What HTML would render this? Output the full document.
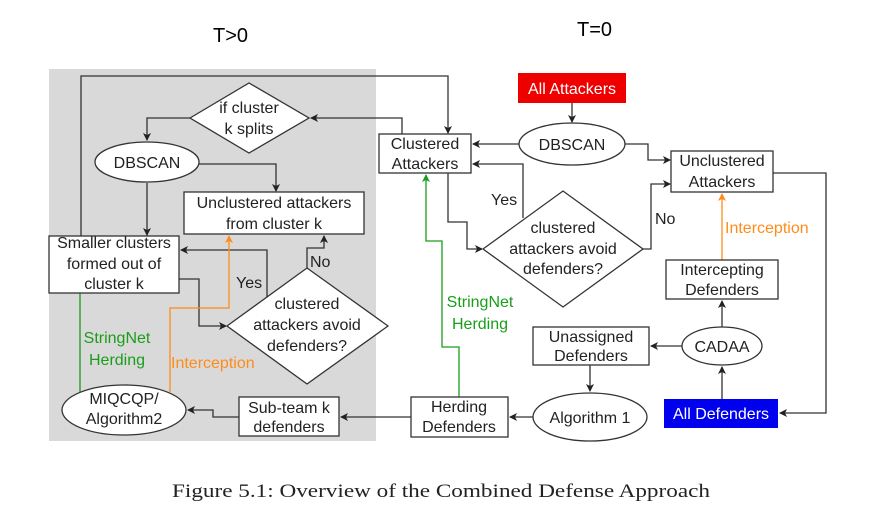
<!DOCTYPE html>
<html><head><style>
html,body{margin:0;padding:0;background:#fff;}
svg{display:block;}
text{font-family:"Liberation Sans",sans-serif;font-size:16px;}
</style></head><body>
<svg width="870" height="511" viewBox="0 0 870 511" xmlns="http://www.w3.org/2000/svg">
<defs>
<marker id="a" markerWidth="8" markerHeight="8" refX="7" refY="4" orient="auto" markerUnits="userSpaceOnUse"><path d="M0,0 L8,4 L0,8 L2,4 z" fill="#222"/></marker>
<marker id="g" markerWidth="8" markerHeight="8" refX="7" refY="4" orient="auto" markerUnits="userSpaceOnUse"><path d="M0,0 L8,4 L0,8 L2,4 z" fill="#1a9e1a"/></marker>
<marker id="o" markerWidth="8" markerHeight="8" refX="7" refY="4" orient="auto" markerUnits="userSpaceOnUse"><path d="M0,0 L8,4 L0,8 L2,4 z" fill="#ff8c1a"/></marker>
</defs>
<rect x="49" y="69" width="327" height="372" fill="#d9d9d9"/>
<text x="213" y="42" style="font-size:20px">T&gt;0</text>
<text x="577" y="36" style="font-size:20px">T=0</text>

<g fill="none" stroke="#333" stroke-width="1.3">
<path d="M81,236 V76 H448 V133" marker-end="url(#a)"/>
<path d="M402,134 V118 H311" marker-end="url(#a)"/>
<path d="M190,118 H147 V140" marker-end="url(#a)"/>
<path d="M198,164 H276 V191" marker-end="url(#a)"/>
<path d="M147,183 V235" marker-end="url(#a)"/>
<path d="M267,297 V250 H181" marker-end="url(#a)"/>
<path d="M179,279 H199 V326 H226" marker-end="url(#a)"/>
<path d="M307,268 V248 H324 V236" marker-end="url(#a)"/>
<path d="M239,417 H213 V410 H188" marker-end="url(#a)"/>
<path d="M411,417 H341" marker-end="url(#a)"/>
<path d="M572,103 V122" marker-end="url(#a)"/>
<path d="M519,144 H473" marker-end="url(#a)"/>
<path d="M523,218 V164 H473" marker-end="url(#a)"/>
<path d="M448,173 V222 H467 V249 H482" marker-end="url(#a)"/>
<path d="M643,249 H651 V184 H670" marker-end="url(#a)"/>
<path d="M625,144 H648 V160 H670" marker-end="url(#a)"/>
<path d="M773,173 H826 V413 H780" marker-end="url(#a)"/>
<path d="M722,399 V367" marker-end="url(#a)"/>
<path d="M722,327 V301" marker-end="url(#a)"/>
<path d="M682,346 H651" marker-end="url(#a)"/>
<path d="M590,365 V391" marker-end="url(#a)"/>
<path d="M533,417 H510" marker-end="url(#a)"/>
</g>
<g fill="none" stroke="#1a9e1a" stroke-width="1.3">
<path d="M80,392 V238" marker-end="url(#g)"/>
<path d="M459,397 V347 H442 V241 H426 V175" marker-end="url(#g)"/>
</g>
<g fill="none" stroke="#ff8c1a" stroke-width="1.3">
<path d="M170,392 V308 H229 V236" marker-end="url(#o)"/>
<path d="M722,260 V194" marker-end="url(#o)"/>
</g>

<g fill="#fff" stroke="#333" stroke-width="1.3">
<polygon points="190,118 249,83 309,118 249,153"/>
<ellipse cx="147" cy="162" rx="52" ry="20"/>
<rect x="184" y="192" width="180" height="42"/>
<rect x="49" y="236" width="130" height="57"/>
<polygon points="227,326 307,268 388,326 307,384"/>
<ellipse cx="124" cy="410" rx="62" ry="25"/>
<rect x="239" y="397" width="100" height="39"/>
<ellipse cx="572" cy="144" rx="53" ry="21"/>
<rect x="379" y="134" width="92" height="39"/>
<polygon points="483,249 563,191 643,249 563,307"/>
<rect x="671" y="151" width="102" height="41"/>
<ellipse cx="722" cy="346" rx="40" ry="19"/>
<rect x="666" y="260" width="112" height="39"/>
<rect x="533" y="327" width="116" height="38"/>
<ellipse cx="590" cy="417" rx="57" ry="24"/>
<rect x="411" y="397" width="97" height="40"/>
</g>
<rect x="518" y="73" width="108" height="30" fill="#ee0000"/>
<rect x="664" y="399" width="114" height="29" fill="#0000ee"/>

<g fill="#222" text-anchor="middle">
<text x="249" y="113">if cluster</text>
<text x="249" y="134">k splits</text>
<text x="147" y="168">DBSCAN</text>
<text x="274" y="208">Unclustered attackers</text>
<text x="274" y="229">from cluster k</text>
<text x="114" y="248">Smaller clusters</text>
<text x="114" y="269">formed out of</text>
<text x="114" y="289">cluster k</text>
<text x="307" y="309">clustered</text>
<text x="307" y="330">attackers avoid</text>
<text x="307" y="351">defenders?</text>
<text x="124" y="404">MIQCQP/</text>
<text x="124" y="424">Algorithm2</text>
<text x="289" y="413">Sub-team k</text>
<text x="289" y="432">defenders</text>
<text x="572" y="150">DBSCAN</text>
<text x="425" y="149">Clustered</text>
<text x="425" y="169">Attackers</text>
<text x="563" y="233">clustered</text>
<text x="563" y="254">attackers avoid</text>
<text x="563" y="274">defenders?</text>
<text x="722" y="166">Unclustered</text>
<text x="722" y="187">Attackers</text>
<text x="722" y="352">CADAA</text>
<text x="722" y="275">Intercepting</text>
<text x="722" y="295">Defenders</text>
<text x="591" y="342">Unassigned</text>
<text x="591" y="361">Defenders</text>
<text x="590" y="423">Algorithm 1</text>
<text x="459" y="412">Herding</text>
<text x="459" y="432">Defenders</text>
<text x="572" y="94" fill="#fff">All Attackers</text>
<text x="721" y="419" fill="#fff">All Defenders</text>
</g>
<g fill="#222">
<text x="236" y="288">Yes</text>
<text x="310" y="267">No</text>
<text x="491" y="205">Yes</text>
<text x="655" y="224">No</text>
</g>
<g fill="#1a9e1a" text-anchor="middle">
<text x="117" y="343">StringNet</text>
<text x="117" y="365">Herding</text>
<text x="480" y="307">StringNet</text>
<text x="480" y="329">Herding</text>
</g>
<g fill="#ff8c1a">
<text x="171" y="368">Interception</text>
<text x="725" y="233">Interception</text>
</g>
<text x="172" y="497" textLength="538" lengthAdjust="spacingAndGlyphs" style="font-family:'Liberation Serif',serif;font-size:19px" fill="#222">Figure 5.1: Overview of the Combined Defense Approach</text>
</svg>
</body></html>
